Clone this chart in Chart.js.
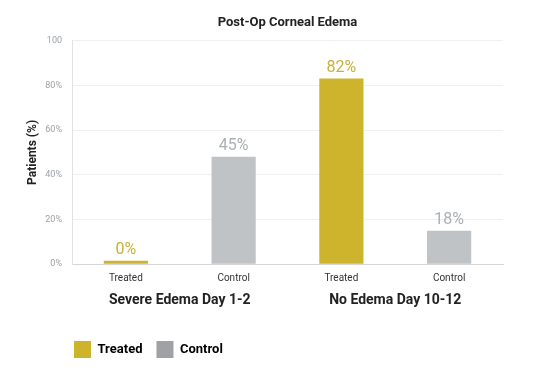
<!DOCTYPE html>
<html>
<head>
<meta charset="utf-8">
<script src="https://cdn.jsdelivr.net/npm/chart.js@4.4.0/dist/chart.umd.min.js"></script>
<style>
  html, body { margin: 0; padding: 0; background: #fff; }
  #wrap { width: 554px; height: 373px; }
</style>
</head>
<body>
<div id="wrap"><canvas id="edemaChart" width="554" height="373"></canvas></div>
<script>
// chart data
const barLabels = ['Treated', 'Control', 'Treated', 'Control'];
const groupLabels = ['Severe Edema Day 1-2', 'No Edema Day 10-12'];
const barValues = [1.5, 48, 83, 15];
const valueText = ['0%', '45%', '82%', '18%'];
const yTicks = [0, 20, 40, 60, 80, 100];
const seriesNames = ['Treated', 'Control'];

const gold = '#cdb42c';
const grey = '#bfc3c6';
const barColors = [gold, grey, gold, grey];
const textColors = ['#c9b038', '#aab0b4', '#c9b038', '#aab0b4'];
const legendColors = [gold, '#9ea2a6'];

// draws the value text above each bar
const valueLabels = {
    id: 'valueLabels',
    afterDatasetsDraw(chart) {
        const ctx = chart.ctx;
        const meta = chart.getDatasetMeta(0);
        ctx.save();
        ctx.font = '16px Roboto';
        ctx.textAlign = 'center';
        ctx.textBaseline = 'alphabetic';
        meta.data.forEach((bar, i) => {
            ctx.fillStyle = textColors[i];
            ctx.fillText(valueText[i], bar.x, bar.y - 7);
        });
        ctx.restore();
    }
};

// line the legend up with the y axis
const legendShift = {
    id: 'legendShift',
    afterLayout(chart) {
        if (chart.legend) {
            chart.legend.left = chart.chartArea.left + 2 - 14;
        }
    }
};

const ctx = document.getElementById('edemaChart').getContext('2d');
new Chart(ctx, {
    type: 'bar',
    data: {
        labels: barLabels,
        datasets: [{
            data: barValues,
            backgroundColor: barColors,
            barPercentage: 0.41,
            categoryPercentage: 1.0
        }]
    },
    options: {
        responsive: false,
        animation: false,
        layout: { padding: { left: 26, right: 51, top: 0, bottom: 5 } },
        plugins: {
            title: {
                display: true,
                fullSize: false,
                text: 'Post-Op Corneal Edema',
                color: '#222',
                font: { family: 'Roboto', size: 13, weight: 'bold' },
                padding: { top: 15, bottom: 10 }
            },
            legend: {
                position: 'bottom',
                align: 'start',
                fullSize: false,
                labels: {
                    boxWidth: 17,
                    boxHeight: 17,
                    padding: 14,
                    color: '#222',
                    font: { family: 'Roboto', size: 13, weight: 'bold' },
                    generateLabels: () => seriesNames.map((name, i) => ({
                        text: name,
                        fillStyle: legendColors[i],
                        strokeStyle: legendColors[i],
                        lineWidth: 0,
                        hidden: false,
                        index: i
                    }))
                }
            },
            tooltip: { enabled: false }
        },
        scales: {
            x: {
                grid: { display: false, drawTicks: false },
                border: { color: '#d6d6d6' },
                ticks: { color: '#333', font: { family: 'Roboto', size: 10 }, padding: 8 }
            },
            x2: {
                type: 'category',
                labels: groupLabels,
                position: 'bottom',
                grid: { display: false, drawTicks: false },
                border: { display: false },
                ticks: { color: '#222', font: { family: 'Roboto', size: 14, weight: 'bold' }, padding: 0 },
                afterFit: axis => { axis.height += 18; }
            },
            y: {
                min: 0,
                max: 100,
                afterBuildTicks: axis => { axis.ticks = yTicks.map(v => ({ value: v })); },
                afterFit: axis => { axis.width = 46; },
                grid: { color: '#f0f0f0', drawTicks: false },
                border: { color: '#e2e2e2' },
                ticks: {
                    color: '#9ca1a6',
                    font: { family: 'Roboto', size: 9 },
                    padding: 10,
                    callback: v => v === 100 ? '100' : v + '%'
                },
                title: {
                    display: true,
                    text: 'Patients (%)',
                    color: '#222',
                    font: { family: 'Roboto', size: 12, weight: 'bold' },
                    padding: { top: 0, bottom: 5 }
                }
            }
        }
    },
    plugins: [valueLabels, legendShift]
});
</script>
</body>
</html>
